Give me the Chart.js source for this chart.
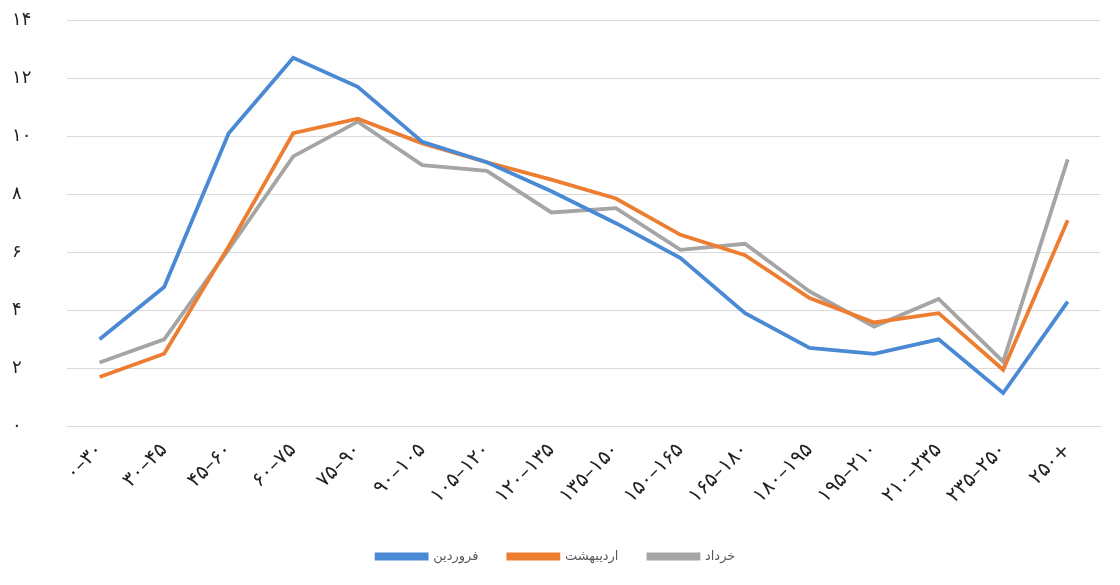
<!DOCTYPE html>
<html>
<head>
<meta charset="utf-8">
<script src="https://cdn.jsdelivr.net/npm/chart.js@4"></script>
<style>
  html, body { margin: 0; padding: 0; background: #fff; }
  #wrap { width: 1120px; height: 585px; }
</style>
</head>
<body>
<div id="wrap"><canvas id="chart" width="1120" height="585"></canvas></div>
<script>
// categories (minutes), as printed on the chart
const categories = [
  '۰–۳۰', '۳۰–۴۵', '۴۵–۶۰', '۶۰–۷۵', '۷۵–۹۰', '۹۰–۱۰۵', '۱۰۵–۱۲۰', '۱۲۰–۱۳۵',
  '۱۳۵–۱۵۰', '۱۵۰–۱۶۵', '۱۶۵–۱۸۰', '۱۸۰–۱۹۵', '۱۹۵–۲۱۰', '۲۱۰–۲۳۵', '۲۳۵–۲۵۰', '۲۵۰+'
]

const farvardin = [3.0, 4.8, 10.1, 12.7, 11.7, 9.8, 9.1, 8.1, 7.0, 5.8, 3.9, 2.7, 2.5, 3.0, 1.15, 4.3]
const ordibehesht = [1.7, 2.5, 6.2, 10.1, 10.6, 9.75, 9.1, 8.5, 7.85, 6.6, 5.9, 4.42, 3.58, 3.9, 1.95, 7.1]
const khordad = [2.2, 3.0, 6.1, 9.3, 10.5, 9.0, 8.8, 7.37, 7.52, 6.08, 6.29, 4.65, 3.44, 4.39, 2.23, 9.2]

const seriesNames = ['فروردین', 'اردیبهشت', 'خرداد']

// y-axis tick labels (0..14 step 2)
const yTickLabels = ['۰', '۲', '۴', '۶', '۸', '۱۰', '۱۲', '۱۴']

const colors = ['#4a89d4', '#ed7d31', '#a5a5a5']
const font = "'DejaVu Sans', 'Noto Sans', sans-serif"

const ctx = document.getElementById('chart')

new Chart(ctx.getContext('2d'), {
  type: 'line',
  data: {
    labels: categories,
    datasets: [farvardin, ordibehesht, khordad].map((values, i) => ({
      label: seriesNames[i],
      data: values,
      borderColor: colors[i],
      backgroundColor: colors[i],
      borderWidth: 3.8,
      pointRadius: 0,
      tension: 0,
      fill: false
    }))
  },
  options: {
    responsive: false,
    animation: false,
    layout: { padding: { left: 12, right: 20, top: 20, bottom: 12 } },
    plugins: {
      title: { display: false },
      tooltip: { enabled: false },
      legend: {
        display: true,
        position: 'bottom',
        labels: {
          boxWidth: 50,
          boxHeight: 4,
          padding: 30,
          color: '#595959',
          font: { family: font, size: 13 }
        }
      }
    },
    scales: {
      x: {
        offset: true,
        grid: { display: false, drawTicks: false },
        border: { display: true, color: '#d9d9d9', width: 1 },
        ticks: {
          minRotation: 45,
          maxRotation: 45,
          autoSkip: false,
          padding: 12,
          color: '#222',
          font: { family: font, size: 20 }
        },
        afterFit: function(scale) {
          scale.paddingLeft = 0
          scale.paddingRight = 0
        }
      },
      y: {
        min: 0,
        max: 14,
        grid: { color: '#d9d9d9', drawTicks: false },
        border: { display: false },
        ticks: {
          stepSize: 2,
          padding: 18,
          crossAlign: 'far',
          color: '#222',
          font: { family: font, size: 18 },
          callback: function(value) { return yTickLabels[Math.round(value / 2)] }
        },
        afterFit: function(scale) {
          scale.paddingTop = 0
          scale.paddingBottom = 0
        }
      }
    }
  }
})
</script>
</body>
</html>
